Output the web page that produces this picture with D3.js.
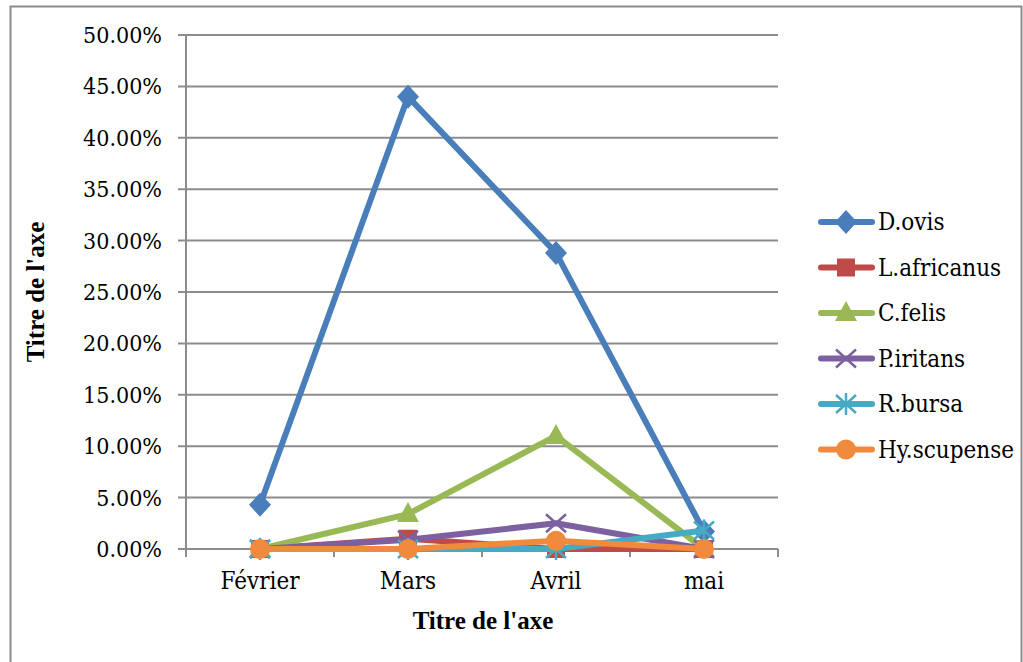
<!DOCTYPE html>
<html lang="fr">
<head>
<meta charset="utf-8">
<title>Titre de l'axe</title>
<script src="https://cdnjs.cloudflare.com/ajax/libs/d3/7.8.5/d3.min.js"></script>
<style>
  body { margin: 0; background: #fff; }
</style>
</head>
<body>
<div id="chart"></div>
<script>
// data
var months = ["Février", "Mars", "Avril", "mai"];
var seriesNames = ["D.ovis", "L.africanus", "C.felis", "P.iritans", "R.bursa", "Hy.scupense"];
var dOvis = [4.3, 44.0, 28.8, 1.7];
var lAfricanus = [0, 1.0, 0, 0];
var cFelis = [0, 3.4, 11.0, 0];
var pIritans = [0, 0.9, 2.5, 0];
var rBursa = [0, 0, 0, 1.8];
var hyScupense = [0, 0, 0.8, 0];
var yTicks = [0, 5, 10, 15, 20, 25, 30, 35, 40, 45, 50];

var colors = ["#4A7EBB", "#BE4B48", "#98B954", "#7D60A0", "#46AAC5", "#F08A3C"];
var symbols = ["diamond", "square", "triangle", "cross", "star", "circle"];
var allValues = [dOvis, lAfricanus, cFelis, pIritans, rBursa, hyScupense];

(function() {
  var W = 1023, H = 662;
  var boldFont = "'Liberation Serif', 'Times New Roman', serif";
  // regular serif weight falls back to sans here, so use DejaVu Serif Condensed
  var font = "'DejaVu Serif Condensed', 'DejaVu Serif', serif";
  var svg = d3.select("#chart").append("svg").attr("width", W).attr("height", H);

  // outer frame
  svg.append("rect").attr("x", 10.5).attr("y", 6.5).attr("width", 1011).attr("height", 670)
    .attr("fill", "none").attr("stroke", "#8c8c8c").attr("stroke-width", 2);

  var pLeft = 186, pRight = 778, pTop = 35, pBottom = 549;

  var x = d3.scaleBand().domain(months).range([pLeft, pRight]);
  var y = d3.scaleLinear().domain([0, 50]).range([pBottom, pTop]);
  var cx = function(m) { return x(m) + x.bandwidth() / 2; };

  // gridlines
  svg.append("g").selectAll("line").data(yTicks).enter().append("line")
    .attr("x1", pLeft - 8).attr("x2", pRight)
    .attr("y1", function(d) { return y(d); }).attr("y2", function(d) { return y(d); })
    .attr("stroke", "#8c8c8c").attr("stroke-width", 2);

  // y axis line
  svg.append("line").attr("x1", pLeft).attr("x2", pLeft).attr("y1", pTop).attr("y2", pBottom + 8)
    .attr("stroke", "#8c8c8c").attr("stroke-width", 2);

  // x ticks at band boundaries
  var bounds = months.map(function(m) { return x(m); }).concat([pRight]);
  svg.append("g").selectAll("line").data(bounds).enter().append("line")
    .attr("x1", function(d) { return d; }).attr("x2", function(d) { return d; })
    .attr("y1", pBottom).attr("y2", pBottom + 8)
    .attr("stroke", "#8c8c8c").attr("stroke-width", 2);

  // y tick labels
  svg.append("g").selectAll("text").data(yTicks).enter().append("text")
    .attr("x", 162).attr("y", function(d) { return y(d); })
    .attr("dy", "0.35em").attr("text-anchor", "end")
    .attr("font-family", font).attr("font-stretch", "condensed").attr("font-size", 23)
    .text(function(d) { return d.toFixed(2) + "%"; });

  // x tick labels
  svg.append("g").selectAll("text").data(months).enter().append("text")
    .attr("x", function(d) { return cx(d); }).attr("y", 581)
    .attr("dy", "0.35em").attr("text-anchor", "middle")
    .attr("font-family", font).attr("font-stretch", "condensed").attr("font-size", 24)
    .text(function(d) { return d; });

  // axis titles
  svg.append("text").attr("x", 483).attr("y", 620).attr("dy", "0.35em")
    .attr("text-anchor", "middle").attr("font-family", boldFont).attr("font-size", 25).attr("font-weight", "bold")
    .text("Titre de l'axe");
  svg.append("text").attr("transform", "translate(35,292) rotate(-90)").attr("dy", "0.35em")
    .attr("text-anchor", "middle").attr("font-family", boldFont).attr("font-size", 25).attr("font-weight", "bold")
    .text("Titre de l'axe");

  function drawMarker(g, kind, color, px, py) {
    var t = "translate(" + px + "," + py + ")";
    if (kind === "diamond") {
      g.append("path").attr("d", "M0,-12L11,0L0,12L-11,0Z").attr("transform", t).attr("fill", color);
    } else if (kind === "square") {
      g.append("rect").attr("x", px - 9).attr("y", py - 9).attr("width", 18).attr("height", 18).attr("fill", color);
    } else if (kind === "triangle") {
      g.append("path").attr("d", "M0,-12L11,8L-11,8Z").attr("transform", t).attr("fill", color);
    } else if (kind === "cross") {
      g.append("path").attr("d", "M-10,-9L10,9M-10,9L10,-9").attr("transform", t)
        .attr("stroke", color).attr("stroke-width", 2.5).attr("fill", "none");
    } else if (kind === "star") {
      g.append("path").attr("d", "M-10,-9L10,9M-10,9L10,-9M0,-11L0,11").attr("transform", t)
        .attr("stroke", color).attr("stroke-width", 2.5).attr("fill", "none");
    } else {
      g.append("circle").attr("cx", px).attr("cy", py).attr("r", 10).attr("fill", color);
    }
  }

  var line = d3.line()
    .x(function(d, i) { return cx(months[i]); })
    .y(function(d) { return y(d); });

  allValues.forEach(function(vals, s) {
    var g = svg.append("g");
    g.append("path").datum(vals).attr("d", line).attr("fill", "none")
      .attr("stroke", colors[s]).attr("stroke-width", 6).attr("stroke-linejoin", "round");
    vals.forEach(function(v, i) {
      drawMarker(g, symbols[s], colors[s], cx(months[i]), y(v));
    });
  });

  // legend
  var legend = svg.append("g");
  seriesNames.forEach(function(name, i) {
    var ly = 222 + i * 45.5;
    legend.append("line").attr("x1", 821).attr("x2", 872).attr("y1", ly).attr("y2", ly)
      .attr("stroke", colors[i]).attr("stroke-width", 6).attr("stroke-linecap", "round");
    drawMarker(legend, symbols[i], colors[i], 846, ly);
    legend.append("text").attr("x", 878).attr("y", ly).attr("dy", "0.35em")
      .attr("font-family", font).attr("font-stretch", "condensed").attr("font-size", 24).text(name);
  });
})();
</script>
</body>
</html>
